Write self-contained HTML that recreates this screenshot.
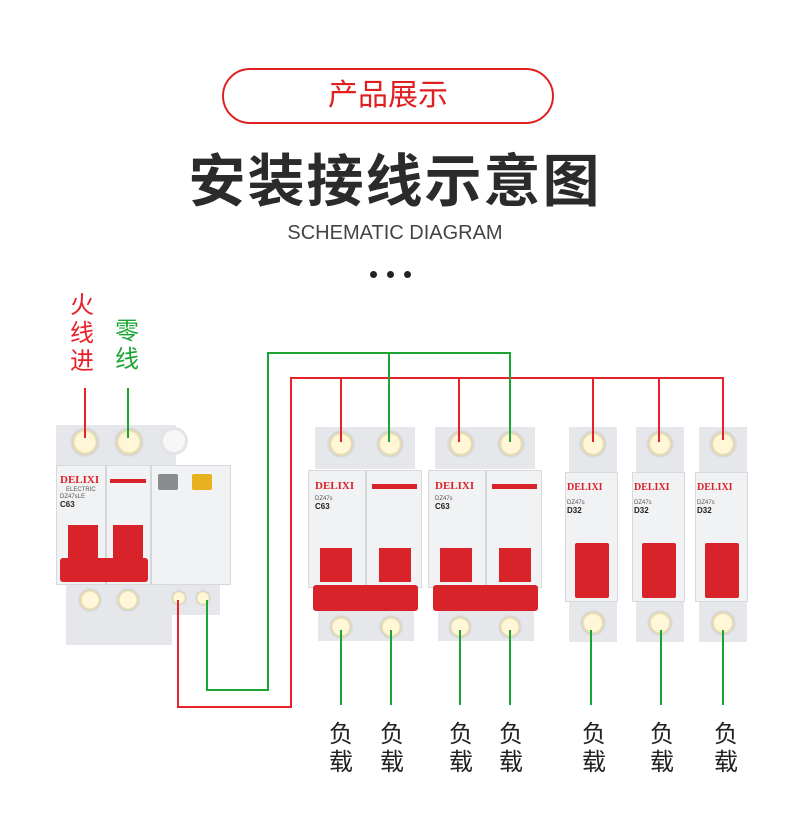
<!DOCTYPE html>
<html><head><meta charset="utf-8"><style>
*{margin:0;padding:0;box-sizing:border-box}
body{width:790px;height:820px;background:#fff;position:relative;overflow:hidden;font-family:"Liberation Sans","Noto Sans CJK SC",sans-serif}
.a{position:absolute}
.pill{left:222px;top:68px;width:332px;height:56px;border:2px solid #e02020;border-radius:28px;color:#e02020;font-size:30px;text-align:center;line-height:52px}
.t{left:0;width:790px;text-align:center}
.g{background:#e6e7ea}
.body{background:#f1f2f4;border:1px solid #d8d9dc}
.red{background:#d8232a}
.term{border-radius:50%;background:radial-gradient(circle,#fff7d8 0 45%,#e6d9a6 55%,#d5d6d9 62%,#eceded 80%)}
.brand{color:#d8232a;font-weight:bold;font-size:11px;font-family:"Liberation Serif",serif}
.sm{font-size:6px;color:#555;line-height:7px}
.lb{font-size:24px;color:#222;text-align:center;width:30px;line-height:28px}
</style></head><body>
<div class="a pill">产品展示</div>
<div class="a t" style="top:136px;font-size:57px;font-weight:bold;color:#2b2b2b;letter-spacing:2px">安装接线示意图</div>
<div class="a t" style="top:222px;font-size:20px;color:#444;letter-spacing:0px">SCHEMATIC DIAGRAM</div>
<div class="a" style="left:370px;top:271px;width:7px;height:7px;border-radius:50%;background:#222"></div>
<div class="a" style="left:387px;top:271px;width:7px;height:7px;border-radius:50%;background:#222"></div>
<div class="a" style="left:404px;top:271px;width:7px;height:7px;border-radius:50%;background:#222"></div>

<div class="a" style="left:70px;top:292px;color:#e8202a;font-size:24px;line-height:28px;width:30px">火<br>线<br>进</div>
<div class="a" style="left:115px;top:318px;color:#1aa533;font-size:24px;line-height:28px;width:30px">零<br>线</div>

<!-- main RCBO -->
<div class="a g" style="left:56px;top:425px;width:120px;height:42px"></div>
<div class="a term" style="left:70px;top:427px;width:30px;height:30px"></div>
<div class="a term" style="left:114px;top:427px;width:30px;height:30px"></div>
<div class="a" style="left:160px;top:427px;width:28px;height:28px;border-radius:50%;border:3px solid #e3e4e6;background:#f7f7f8"></div>
<div class="a body" style="left:56px;top:465px;width:175px;height:120px"></div>
<div class="a" style="left:105px;top:465px;width:2px;height:120px;background:#d5d6d9"></div>
<div class="a" style="left:150px;top:465px;width:2px;height:120px;background:#d5d6d9"></div>
<div class="a brand" style="left:60px;top:474px">DELIXI</div>
<div class="a sm" style="left:66px;top:487px">ELECTRIC</div>
<div class="a sm" style="left:60px;top:494px">DZ47sLE<br><b style="font-size:8px;color:#222">C63</b></div>
<div class="a red" style="left:110px;top:479px;width:36px;height:4px"></div>
<div class="a" style="left:158px;top:474px;width:20px;height:16px;background:#8a8b8e;border-radius:2px"></div>
<div class="a" style="left:192px;top:474px;width:20px;height:16px;background:#e8b21e;border-radius:2px"></div>
<div class="a red" style="left:68px;top:525px;width:30px;height:35px"></div>
<div class="a red" style="left:113px;top:525px;width:30px;height:35px"></div>
<div class="a red" style="left:60px;top:558px;width:88px;height:24px;border-radius:3px"></div>
<div class="a g" style="left:66px;top:585px;width:106px;height:60px"></div>
<div class="a g" style="left:170px;top:585px;width:50px;height:30px"></div>
<div class="a term" style="left:78px;top:588px;width:24px;height:24px"></div>
<div class="a term" style="left:116px;top:588px;width:24px;height:24px"></div>
<div class="a term" style="left:171px;top:590px;width:16px;height:16px"></div>
<div class="a term" style="left:195px;top:590px;width:16px;height:16px"></div>

<!-- 2P breakers -->
<div class="a g" style="left:315px;top:427px;width:100px;height:42px"></div>
<div class="a term" style="left:327px;top:430px;width:28px;height:28px"></div>
<div class="a term" style="left:376px;top:430px;width:28px;height:28px"></div>
<div class="a body" style="left:308px;top:470px;width:114px;height:118px"></div>
<div class="a" style="left:365px;top:470px;width:2px;height:118px;background:#d5d6d9"></div>
<div class="a brand" style="left:315px;top:480px">DELIXI</div>
<div class="a sm" style="left:315px;top:496px">DZ47s<br><b style="font-size:8px;color:#222">C63</b></div>
<div class="a red" style="left:372px;top:484px;width:45px;height:5px"></div>
<div class="a red" style="left:320px;top:548px;width:32px;height:34px"></div>
<div class="a red" style="left:379px;top:548px;width:32px;height:34px"></div>
<div class="a red" style="left:313px;top:585px;width:105px;height:26px;border-radius:3px"></div>
<div class="a g" style="left:318px;top:611px;width:96px;height:30px"></div>
<div class="a term" style="left:329px;top:615px;width:24px;height:24px"></div>
<div class="a term" style="left:379px;top:615px;width:24px;height:24px"></div>

<div class="a g" style="left:435px;top:427px;width:100px;height:42px"></div>
<div class="a term" style="left:447px;top:430px;width:28px;height:28px"></div>
<div class="a term" style="left:497px;top:430px;width:28px;height:28px"></div>
<div class="a body" style="left:428px;top:470px;width:114px;height:118px"></div>
<div class="a" style="left:485px;top:470px;width:2px;height:118px;background:#d5d6d9"></div>
<div class="a brand" style="left:435px;top:480px">DELIXI</div>
<div class="a sm" style="left:435px;top:496px">DZ47s<br><b style="font-size:8px;color:#222">C63</b></div>
<div class="a red" style="left:492px;top:484px;width:45px;height:5px"></div>
<div class="a red" style="left:440px;top:548px;width:32px;height:34px"></div>
<div class="a red" style="left:499px;top:548px;width:32px;height:34px"></div>
<div class="a red" style="left:433px;top:585px;width:105px;height:26px;border-radius:3px"></div>
<div class="a g" style="left:438px;top:611px;width:96px;height:30px"></div>
<div class="a term" style="left:448px;top:615px;width:24px;height:24px"></div>
<div class="a term" style="left:498px;top:615px;width:24px;height:24px"></div>

<!-- 1P breakers -->
<div class="a g" style="left:569px;top:427px;width:48px;height:45px"></div>
<div class="a term" style="left:579px;top:430px;width:28px;height:28px"></div>
<div class="a body" style="left:565px;top:472px;width:53px;height:130px"></div>
<div class="a brand" style="left:567px;top:482px;font-size:10px">DELIXI</div>
<div class="a sm" style="left:567px;top:500px">DZ47s<br><b style="font-size:8px;color:#222">D32</b></div>
<div class="a red" style="left:575px;top:543px;width:34px;height:55px;border-radius:2px"></div>
<div class="a g" style="left:569px;top:602px;width:48px;height:40px"></div>
<div class="a term" style="left:580px;top:610px;width:26px;height:26px"></div>

<div class="a g" style="left:636px;top:427px;width:48px;height:45px"></div>
<div class="a term" style="left:646px;top:430px;width:28px;height:28px"></div>
<div class="a body" style="left:632px;top:472px;width:53px;height:130px"></div>
<div class="a brand" style="left:634px;top:482px;font-size:10px">DELIXI</div>
<div class="a sm" style="left:634px;top:500px">DZ47s<br><b style="font-size:8px;color:#222">D32</b></div>
<div class="a red" style="left:642px;top:543px;width:34px;height:55px;border-radius:2px"></div>
<div class="a g" style="left:636px;top:602px;width:48px;height:40px"></div>
<div class="a term" style="left:647px;top:610px;width:26px;height:26px"></div>

<div class="a g" style="left:699px;top:427px;width:48px;height:45px"></div>
<div class="a term" style="left:709px;top:430px;width:28px;height:28px"></div>
<div class="a body" style="left:695px;top:472px;width:53px;height:130px"></div>
<div class="a brand" style="left:697px;top:482px;font-size:10px">DELIXI</div>
<div class="a sm" style="left:697px;top:500px">DZ47s<br><b style="font-size:8px;color:#222">D32</b></div>
<div class="a red" style="left:705px;top:543px;width:34px;height:55px;border-radius:2px"></div>
<div class="a g" style="left:699px;top:602px;width:48px;height:40px"></div>
<div class="a term" style="left:710px;top:610px;width:26px;height:26px"></div>

<svg class="a" style="left:0;top:0" width="790" height="820" fill="none" stroke-width="2">
<g stroke="#e8202a">
<path d="M85 388V438"/>
<path d="M178 600V707H291V378H723V440"/>
<path d="M341 378V442M459 378V442M593 378V442M659 378V442"/>
</g>
<g stroke="#1aa533">
<path d="M128 388V438"/>
<path d="M207 600V690H268V353H510V442"/>
<path d="M389 353V442"/>
<path d="M341 630V705M391 630V705M460 630V705M510 630V705M591 630V705M661 630V705M723 630V705"/>
</g>
</svg>

<div class="a lb" style="left:326px;top:721px">负<br>载</div>
<div class="a lb" style="left:377px;top:721px">负<br>载</div>
<div class="a lb" style="left:446px;top:721px">负<br>载</div>
<div class="a lb" style="left:496px;top:721px">负<br>载</div>
<div class="a lb" style="left:579px;top:721px">负<br>载</div>
<div class="a lb" style="left:647px;top:721px">负<br>载</div>
<div class="a lb" style="left:711px;top:721px">负<br>载</div>
</body></html>
